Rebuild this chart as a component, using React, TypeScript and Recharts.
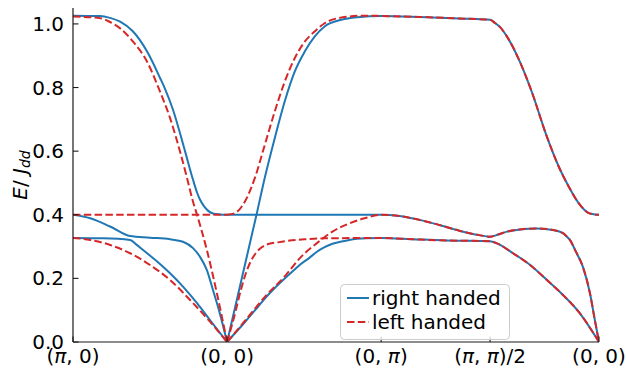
import { LineChart, Line, XAxis, YAxis, Legend } from 'recharts'

// x = distance along the path (units of pi): (pi,0) -> (0,0) -> (0,pi) -> (pi,pi)/2 -> (0,0)
const xTicks = [0, 1, 2, 2.707, 3.414]
const xTickLabels = ['(π, 0)', '(0, 0)', '(0, π)', '(π, π)/2', '(0, 0)']
const yTicks = [0, 0.2, 0.4, 0.6, 0.8, 1.0]
const legendNames = ['right handed', 'left handed']

// shared pieces on (0,pi) -> (pi,pi)/2 -> (0,0), where both chiralities coincide
const rightTopK = [2.0, 2.248, 2.507, 2.707, 2.739, 2.772, 2.817, 2.895, 2.981, 3.068, 3.153, 3.218, 3.283, 3.348, 3.385, 3.414]
const rightTopE = [1.025, 1.022, 1.017, 1.013, 1.003, 0.99, 0.96, 0.887, 0.782, 0.656, 0.551, 0.488, 0.436, 0.405, 0.401, 0.4]
const rightMidK = [2.0, 2.118, 2.248, 2.377, 2.507, 2.636, 2.707, 2.76, 2.817, 2.902, 3.012, 3.115, 3.18, 3.2, 3.225, 3.264, 3.309, 3.355, 3.387, 3.414]
const rightMidE = [0.4, 0.396, 0.384, 0.368, 0.35, 0.336, 0.331, 0.338, 0.347, 0.354, 0.357, 0.352, 0.342, 0.334, 0.321, 0.284, 0.237, 0.154, 0.069, 0]
const rightLowK = [2.0, 2.203, 2.423, 2.707, 2.752, 2.856, 2.967, 3.076, 3.18, 3.29, 3.414]
const rightLowE = [0.327, 0.323, 0.319, 0.317, 0.31, 0.279, 0.242, 0.195, 0.148, 0.09, 0]

// right handed: (pi,0) -> (0,0)
const blue1LeftK = [0, 0.177, 0.24, 0.306, 0.39, 0.481, 0.565, 0.598, 0.649, 0.727, 0.779, 0.805, 0.824, 0.85, 0.876, 0.908, 0.953, 1.0]
const blue1LeftE = [1.026, 1.025, 1.019, 1.007, 0.976, 0.913, 0.83, 0.795, 0.73, 0.6, 0.51, 0.47, 0.448, 0.427, 0.413, 0.404, 0.401, 0.4]
const blue2LeftK = [0, 0.112, 0.241, 0.371, 0.5, 0.63, 0.714, 0.779, 0.824, 0.869, 0.908, 0.953, 1.0]
const blue2LeftE = [0.4, 0.389, 0.363, 0.333, 0.328, 0.323, 0.315, 0.295, 0.268, 0.226, 0.164, 0.09, 0]
const blue3LeftK = [0, 0.196, 0.371, 0.41, 0.455, 0.546, 0.63, 0.714, 0.805, 0.889, 1.0]
const blue3LeftE = [0.327, 0.326, 0.321, 0.307, 0.289, 0.253, 0.216, 0.174, 0.122, 0.069, 0]
// right handed: (0,0) -> (0,pi)
const blue1MidK = [1.0]
const blue1MidE = [0.4]
const blue2MidK = [1.0, 1.191, 1.244, 1.309, 1.374, 1.439, 1.504, 1.568, 1.633, 1.743, 1.846]
const blue2MidE = [0, 0.4, 0.515, 0.64, 0.756, 0.85, 0.913, 0.96, 0.992, 1.013, 1.021]
const blue3MidK = [1.0, 1.122, 1.199, 1.251, 1.316, 1.381, 1.439, 1.471, 1.538, 1.581, 1.633, 1.684, 1.743, 1.794, 1.905]
const blue3MidE = [0, 0.066, 0.11, 0.14, 0.173, 0.203, 0.228, 0.242, 0.266, 0.283, 0.298, 0.309, 0.316, 0.321, 0.326]

// left handed: (pi,0) -> (0,0)
const red1LeftK = [0, 0.177, 0.24, 0.306, 0.39, 0.481, 0.565, 0.63, 0.695, 0.74, 0.779, 0.805, 0.869, 0.934, 1.0]
const red1LeftE = [1.023, 1.018, 1.006, 0.986, 0.944, 0.881, 0.787, 0.704, 0.598, 0.516, 0.441, 0.4, 0.289, 0.153, 0]
const red2LeftK = [0, 1.0]
const red2LeftE = [0.4, 0.4]
const red3LeftK = [0, 0.112, 0.241, 0.371, 0.5, 0.63, 0.76, 0.889, 1.0]
const red3LeftE = [0.327, 0.321, 0.305, 0.279, 0.242, 0.195, 0.132, 0.064, 0]
// left handed: (0,0) -> (0,pi)
const red1MidK = [1.0, 1.057, 1.078, 1.122, 1.15, 1.186, 1.251, 1.337, 1.51, 1.633]
const red1MidE = [0, 0.1, 0.142, 0.216, 0.25, 0.279, 0.305, 0.314, 0.323, 0.326]
const red2MidK = [1.0, 1.05, 1.115, 1.18, 1.245, 1.309, 1.374, 1.439, 1.504, 1.568, 1.633, 1.743, 1.892]
const red2MidE = [0.4, 0.405, 0.441, 0.515, 0.62, 0.724, 0.818, 0.892, 0.944, 0.976, 1.002, 1.02, 1.026]
const red3MidK = [1.0, 1.122, 1.251, 1.381, 1.471, 1.581, 1.684, 1.794, 1.892]
const red3MidE = [0, 0.07, 0.145, 0.21, 0.263, 0.31, 0.347, 0.373, 0.389]

const BLUE = '#1f77b4'
const RED = '#d62728'
const AXIS = '#1a1a1a'
const FONT = 'DejaVu Sans, sans-serif'
const TICK_LEN = 5.5
const DASH = '7.5 3.3'

const toPoints = (k: number[], e: number[]) => k.map((kk, i) => ({ k: kk, e: e[i] }))

const renderMath = (s: string) =>
  s.split('π').flatMap((part, i) =>
    i === 0 ? [part] : [<tspan key={i} fontStyle="italic">π</tspan>, part]
  )

const BottomTick = (props: any) => {
  const { x, y, payload } = props
  const i = xTicks.indexOf(payload.value)
  return (
    <g>
      <line x1={x} x2={x} y1={y} y2={y - TICK_LEN} stroke={AXIS} strokeWidth={1.1} />
      <text x={x} y={y + 21} textAnchor="middle" fontSize={20} fontFamily={FONT} fill="#000">
        {renderMath(xTickLabels[i] ?? '')}
      </text>
    </g>
  )
}

const TopTick = (props: any) => {
  const { x, y } = props
  return <line x1={x} x2={x} y1={y} y2={y + TICK_LEN} stroke={AXIS} strokeWidth={1.1} />
}

const LeftTick = (props: any) => {
  const { x, y, payload } = props
  return (
    <g>
      <line x1={x} x2={x + TICK_LEN} y1={y} y2={y} stroke={AXIS} strokeWidth={1.1} />
      <text x={x - 9} y={y} textAnchor="end" dominantBaseline="central" fontSize={20} fontFamily={FONT} fill="#000">
        {Number(payload.value).toFixed(1)}
      </text>
    </g>
  )
}

const RightTick = (props: any) => {
  const { x, y } = props
  return <line x1={x} x2={x - TICK_LEN} y1={y} y2={y} stroke={AXIS} strokeWidth={1.1} />
}

const YLabel = (props: any) => {
  const { viewBox } = props
  const cx = viewBox.x + 20
  const cy = viewBox.y + viewBox.height / 2
  return (
    <text
      transform={`translate(${cx},${cy}) rotate(-90)`}
      textAnchor="middle"
      dominantBaseline="central"
      fontSize={20}
      fontFamily={FONT}
      fill="#000"
    >
      <tspan fontStyle="italic">E</tspan>
      <tspan>/ </tspan>
      <tspan fontStyle="italic">J</tspan>
      <tspan fontStyle="italic" fontSize={14} dy={5}>dd</tspan>
    </text>
  )
}

const LegendBox = (props: any) => {
  const items = (props.payload || [])
    .filter((p: any) => legendNames.includes(p.value))
    .sort((a: any, b: any) => legendNames.indexOf(a.value) - legendNames.indexOf(b.value))
  return (
    <svg width={170} height={56} style={{ display: 'block' }}>
      <rect x={0.5} y={0.5} width={169} height={55} rx={4} fill="rgba(255,255,255,0.8)" stroke="#cccccc" />
      {items.map((it: any, i: number) => {
        const yy = 14 + i * 24
        return (
          <g key={it.value}>
            <line
              x1={7}
              x2={29}
              y1={yy}
              y2={yy}
              stroke={it.color}
              strokeWidth={2}
              strokeDasharray={it.payload?.strokeDasharray}
            />
            <text x={32} y={yy} dominantBaseline="central" fontSize={20} fontFamily={FONT} fill="#000">
              {it.value}
            </text>
          </g>
        )
      })}
    </svg>
  )
}

export default function App() {
  const series = [
    { id: 'b1l', data: toPoints(blue1LeftK, blue1LeftE), color: BLUE, name: 'right handed', dash: undefined },
    { id: 'b1r', data: toPoints([...blue1MidK, ...rightMidK], [...blue1MidE, ...rightMidE]), color: BLUE, name: 'b1r', dash: undefined },
    { id: 'b2l', data: toPoints(blue2LeftK, blue2LeftE), color: BLUE, name: 'b2l', dash: undefined },
    { id: 'b2r', data: toPoints([...blue2MidK, ...rightTopK], [...blue2MidE, ...rightTopE]), color: BLUE, name: 'b2r', dash: undefined },
    { id: 'b3l', data: toPoints(blue3LeftK, blue3LeftE), color: BLUE, name: 'b3l', dash: undefined },
    { id: 'b3r', data: toPoints([...blue3MidK, ...rightLowK], [...blue3MidE, ...rightLowE]), color: BLUE, name: 'b3r', dash: undefined },
    { id: 'r1l', data: toPoints(red1LeftK, red1LeftE), color: RED, name: 'left handed', dash: DASH },
    { id: 'r1r', data: toPoints([...red1MidK, ...rightLowK], [...red1MidE, ...rightLowE]), color: RED, name: 'r1r', dash: DASH },
    { id: 'r2l', data: toPoints(red2LeftK, red2LeftE), color: RED, name: 'r2l', dash: DASH },
    { id: 'r2r', data: toPoints([...red2MidK, ...rightTopK], [...red2MidE, ...rightTopE]), color: RED, name: 'r2r', dash: DASH },
    { id: 'r3l', data: toPoints(red3LeftK, red3LeftE), color: RED, name: 'r3l', dash: DASH },
    { id: 'r3r', data: toPoints([...red3MidK, ...rightMidK], [...red3MidE, ...rightMidE]), color: RED, name: 'r3r', dash: DASH },
  ]

  return (
    <div style={{ position: 'absolute', left: 0, top: 0, background: '#fff' }}>
      <LineChart width={626} height={372} margin={{ top: 8, right: 27, bottom: 0, left: 0 }}>
        <XAxis
          dataKey="k"
          type="number"
          domain={[0, 3.414]}
          ticks={xTicks}
          interval={0}
          allowDataOverflow
          height={30}
          tickSize={0}
          tickMargin={0}
          tick={<BottomTick />}
          axisLine={{ stroke: AXIS, strokeWidth: 1.2 }}
        />
        <XAxis
          xAxisId="top"
          orientation="top"
          dataKey="k"
          type="number"
          domain={[0, 3.414]}
          ticks={xTicks}
          interval={0}
          allowDataOverflow
          height={0}
          tickSize={0}
          tickMargin={0}
          tick={<TopTick />}
          axisLine={{ stroke: AXIS, strokeWidth: 1.2 }}
        />
        <YAxis
          type="number"
          domain={[0, 1.05]}
          ticks={yTicks}
          interval={0}
          allowDataOverflow
          width={73}
          tickSize={0}
          tickMargin={0}
          tick={<LeftTick />}
          axisLine={{ stroke: AXIS, strokeWidth: 1.2 }}
          label={<YLabel />}
        />
        <YAxis
          yAxisId="right"
          orientation="right"
          type="number"
          domain={[0, 1.05]}
          ticks={yTicks}
          interval={0}
          allowDataOverflow
          width={0}
          tickSize={0}
          tickMargin={0}
          tick={<RightTick />}
          axisLine={{ stroke: AXIS, strokeWidth: 1.2 }}
        />
        {series.map((s) => (
          <Line
            key={s.id}
            data={s.data}
            dataKey="e"
            name={s.name}
            type="monotone"
            stroke={s.color}
            strokeWidth={2}
            strokeDasharray={s.dash}
            dot={false}
            activeDot={false}
            legendType={legendNames.includes(s.name) ? 'line' : 'none'}
            isAnimationActive={false}
          />
        ))}
        <Legend
          layout="vertical"
          align="center"
          verticalAlign="middle"
          content={<LegendBox />}
          wrapperStyle={{ position: 'absolute', left: 340, top: 284, width: 170, height: 56 }}
        />
      </LineChart>
    </div>
  )
}
